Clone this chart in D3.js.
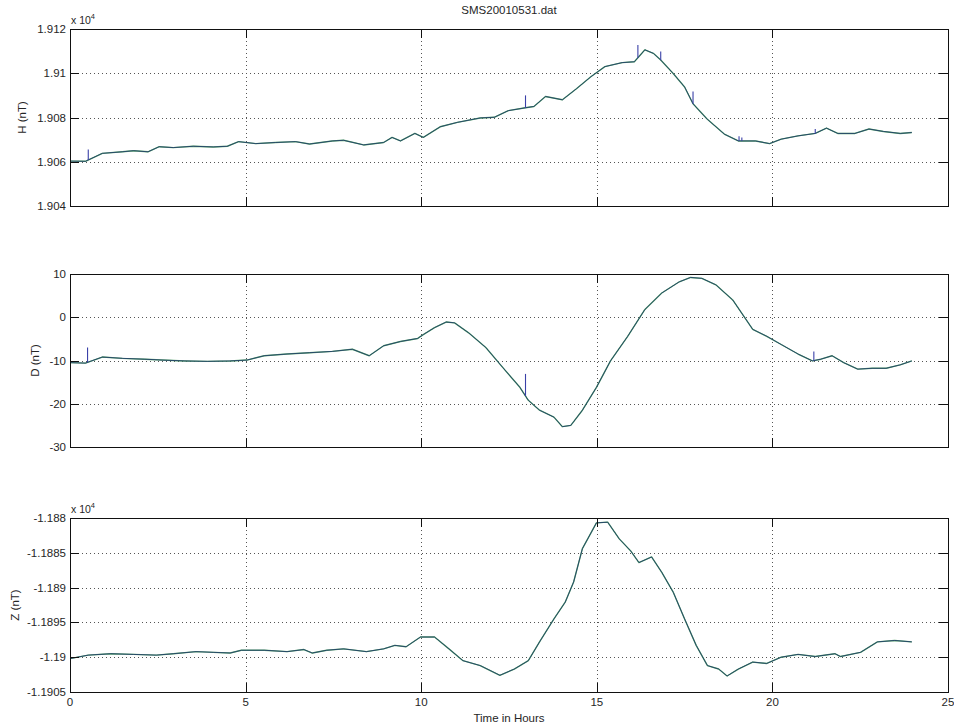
<!DOCTYPE html>
<html>
<head>
<meta charset="utf-8">
<script src="https://cdn.jsdelivr.net/npm/d3@7"></script>
<style>
  html, body { margin: 0; padding: 0; background: #ffffff; }
  svg { display: block; font-family: "Liberation Sans", Arial, Helvetica, sans-serif; }
</style>
</head>
<body>
<svg id="chart" width="954" height="727"></svg>
<script>
// ---------------- DATA ----------------
const title = "SMS20010531.dat";
const xLabel = "Time in Hours";
const xTicks = [0, 5, 10, 15, 20, 25];

// H component (nT)
const hHours = [0, 0.44, 0.92, 1.49, 1.81, 2.22, 2.54, 2.94, 3.51, 4.08, 4.48, 4.80, 5.29, 5.85, 6.42, 6.82, 7.47, 7.79, 8.36, 8.93, 9.17, 9.41, 9.82, 10.06, 10.54, 11.03, 11.68, 12.08, 12.48, 12.97, 13.21, 13.54, 14.02, 14.42, 14.83, 15.23, 15.72, 16.07, 16.37, 16.61, 16.82, 17.17, 17.50, 17.74, 18.14, 18.63, 19.03, 19.52, 19.92, 20.25, 20.73, 21.22, 21.54, 21.86, 22.35, 22.75, 23.16, 23.64, 23.97];
const hValues = [19060.3, 19060.2, 19063.8, 19064.5, 19065.0, 19064.5, 19066.8, 19066.4, 19067.0, 19066.7, 19067.0, 19069.1, 19068.2, 19068.7, 19069.1, 19068.0, 19069.4, 19069.7, 19067.6, 19068.7, 19071.0, 19069.4, 19072.8, 19071.0, 19075.8, 19077.8, 19079.8, 19080.1, 19083.1, 19084.4, 19085.0, 19089.5, 19088.0, 19093.0, 19098.4, 19103.0, 19104.8, 19105.2, 19110.6, 19109.0, 19106.0, 19100.0, 19093.8, 19086.2, 19079.3, 19072.5, 19069.4, 19069.4, 19068.2, 19070.2, 19071.7, 19072.8, 19075.2, 19072.8, 19072.8, 19074.8, 19073.7, 19072.8, 19073.2];
const hSpikeHours = [0.52, 12.97, 16.17, 16.82, 17.74, 19.05, 19.13, 21.22];
const hSpikeTops  = [19065.5, 19090.0, 19112.8, 19109.8, 19091.8, 19071.5, 19071.0, 19074.8];
const hTickValues = [19040, 19060, 19080, 19100, 19120];
const hTickLabels = ["1.904", "1.906", "1.908", "1.91", "1.912"];

// D component (nT)
const dHours = [0, 0.44, 0.92, 1.49, 2.13, 2.62, 3.27, 3.91, 4.56, 5.04, 5.53, 6.18, 6.82, 7.47, 8.04, 8.52, 8.93, 9.41, 9.90, 10.06, 10.38, 10.71, 10.95, 11.35, 11.84, 12.32, 12.81, 13.05, 13.37, 13.78, 14.02, 14.26, 14.59, 14.99, 15.39, 15.88, 16.37, 16.85, 17.35, 17.67, 17.99, 18.39, 18.87, 19.44, 19.84, 20.25, 20.73, 21.14, 21.38, 21.70, 22.03, 22.43, 22.84, 23.24, 23.64, 23.97];
const dValues = [-10.5, -10.6, -9.2, -9.5, -9.7, -9.9, -10.1, -10.2, -10.1, -9.9, -8.9, -8.5, -8.2, -7.9, -7.4, -8.9, -6.6, -5.6, -4.9, -4.0, -2.4, -1.1, -1.3, -3.6, -7.0, -11.6, -16.2, -19.2, -21.5, -23.1, -25.3, -25.0, -21.5, -16.2, -10.1, -4.4, 1.8, 5.6, 8.2, 9.2, 9.0, 7.5, 4.0, -2.8, -4.4, -6.3, -8.5, -10.1, -9.7, -8.9, -10.5, -12.0, -11.8, -11.8, -11.0, -10.1];
const dSpikeHours = [0.50, 12.97, 21.18];
const dSpikeTops  = [-7.0, -13.1, -7.9];
const dTickValues = [-30, -20, -10, 0, 10];
const dTickLabels = ["-30", "-20", "-10", "0", "10"];

// Z component (nT)
const zHours = [0, 0.52, 1.16, 1.81, 2.46, 2.94, 3.59, 4.08, 4.56, 4.88, 5.53, 6.18, 6.66, 6.90, 7.31, 7.79, 8.44, 8.93, 9.25, 9.57, 9.98, 10.38, 10.79, 11.19, 11.68, 12.24, 12.65, 13.05, 13.37, 13.78, 14.10, 14.34, 14.59, 14.99, 15.31, 15.64, 15.96, 16.20, 16.56, 16.85, 17.18, 17.50, 17.83, 18.15, 18.47, 18.71, 19.03, 19.44, 19.84, 20.25, 20.73, 21.22, 21.78, 21.94, 22.51, 22.99, 23.48, 23.97];
const zValues = [-11900.2, -11899.7, -11899.5, -11899.6, -11899.7, -11899.5, -11899.2, -11899.3, -11899.4, -11899.0, -11899.0, -11899.2, -11898.9, -11899.4, -11899.0, -11898.8, -11899.2, -11898.8, -11898.3, -11898.5, -11897.1, -11897.1, -11898.8, -11900.5, -11901.2, -11902.6, -11901.7, -11900.5, -11897.8, -11894.5, -11892.1, -11889.2, -11884.4, -11880.7, -11880.6, -11883.0, -11884.7, -11886.4, -11885.6, -11887.8, -11890.7, -11894.5, -11898.3, -11901.2, -11901.7, -11902.7, -11901.7, -11900.7, -11900.9, -11900.0, -11899.6, -11899.9, -11899.5, -11899.9, -11899.3, -11897.8, -11897.6, -11897.8];
const zTickValues = [-11905, -11900, -11895, -11890, -11885, -11880];
const zTickLabels = ["-1.1905", "-1.19", "-1.1895", "-1.189", "-1.1885", "-1.188"];

// ---------------- DRAW ----------------
const svg = d3.select("#chart");
const left = 70, right = 948;
const x = d3.scaleLinear().domain([0, 25]).range([left, right]);

const panels = [
  { top: 29, bottom: 206, domain: [19040, 19120], hours: hHours, values: hValues,
    spikeHours: hSpikeHours, spikeTops: hSpikeTops, ticks: hTickValues, labels: hTickLabels,
    ylabel: "H (nT)", ylabelX: 22, exponent: true, xlabels: false },
  { top: 274, bottom: 447, domain: [-30, 10], hours: dHours, values: dValues,
    spikeHours: dSpikeHours, spikeTops: dSpikeTops, ticks: dTickValues, labels: dTickLabels,
    ylabel: "D (nT)", ylabelX: 35, exponent: false, xlabels: false },
  { top: 518, bottom: 692, domain: [-11905, -11880], hours: zHours, values: zValues,
    spikeHours: [], spikeTops: [], ticks: zTickValues, labels: zTickLabels,
    ylabel: "Z (nT)", ylabelX: 15, exponent: true, xlabels: true }
];

const textColor = "#262626";
const tickLen = 9;

panels.forEach(p => {
  const y = d3.scaleLinear().domain(p.domain).range([p.bottom, p.top]);
  const g = svg.append("g");

  // grid
  const grid = g.append("g").attr("stroke", "#555").attr("stroke-width", 1)
    .attr("stroke-dasharray", "1,3").attr("shape-rendering", "crispEdges");
  xTicks.slice(1, -1).forEach(t => {
    grid.append("line").attr("x1", Math.round(x(t)) + 0.5).attr("x2", Math.round(x(t)) + 0.5)
      .attr("y1", p.top).attr("y2", p.bottom);
  });
  p.ticks.slice(1, -1).forEach(t => {
    grid.append("line").attr("x1", left).attr("x2", right)
      .attr("y1", Math.round(y(t)) + 0.5).attr("y2", Math.round(y(t)) + 0.5);
  });

  // data lines: green underneath, blue on top
  const pts = p.hours.map((h, i) => [h, p.values[i]]);
  const line = d3.line().x(d => x(d[0])).y(d => y(d[1]));
  g.append("path").datum(pts).attr("d", line)
    .attr("fill", "none").attr("stroke", "#5aa86c").attr("stroke-width", 1.4)
    .attr("stroke-linejoin", "round");
  g.append("path").datum(pts).attr("d", line)
    .attr("fill", "none").attr("stroke", "#1b3068").attr("stroke-width", 0.8)
    .attr("stroke-linejoin", "round");

  // spikes (blue raw data)
  const interp = d3.scaleLinear().domain(p.hours).range(p.values);
  p.spikeHours.forEach((h, i) => {
    g.append("line")
      .attr("x1", x(h)).attr("x2", x(h))
      .attr("y1", y(interp(h))).attr("y2", y(p.spikeTops[i]))
      .attr("stroke", "#3a40a8").attr("stroke-width", 1.1);
  });

  // box
  g.append("rect").attr("x", left + 0.5).attr("y", p.top + 0.5)
    .attr("width", right - left).attr("height", p.bottom - p.top)
    .attr("fill", "none").attr("stroke", "#111").attr("stroke-width", 1)
    .attr("shape-rendering", "crispEdges");

  // ticks (inward, all four sides)
  const tk = g.append("g").attr("stroke", "#111").attr("stroke-width", 1).attr("shape-rendering", "crispEdges");
  xTicks.forEach(t => {
    const xp = Math.round(x(t)) + 0.5;
    tk.append("line").attr("x1", xp).attr("x2", xp).attr("y1", p.bottom).attr("y2", p.bottom - tickLen);
    tk.append("line").attr("x1", xp).attr("x2", xp).attr("y1", p.top).attr("y2", p.top + tickLen);
  });
  p.ticks.forEach(t => {
    const yp = Math.round(y(t)) + 0.5;
    tk.append("line").attr("x1", left).attr("x2", left + tickLen).attr("y1", yp).attr("y2", yp);
    tk.append("line").attr("x1", right).attr("x2", right - tickLen).attr("y1", yp).attr("y2", yp);
  });

  // y tick labels
  p.ticks.forEach((t, i) => {
    g.append("text").attr("x", left - 4).attr("y", y(t)).attr("dy", "0.35em")
      .attr("text-anchor", "end").attr("font-size", 11.5).attr("fill", textColor)
      .text(p.labels[i]);
  });

  // exponent label
  if (p.exponent) {
    const ex = g.append("text").attr("x", left + 1).attr("y", p.top - 5)
      .attr("font-size", 10.5).attr("fill", textColor);
    ex.append("tspan").text("x 10");
    ex.append("tspan").attr("font-size", 7.5).attr("dy", -5).text("4");
  }

  // y label
  const cy = (p.top + p.bottom) / 2;
  g.append("text").attr("transform", `translate(${p.ylabelX},${cy}) rotate(-90)`)
    .attr("text-anchor", "middle").attr("dy", "0.35em").attr("font-size", 11.5).attr("fill", textColor)
    .text(p.ylabel);

  // x tick labels
  if (p.xlabels) {
    xTicks.forEach(t => {
      g.append("text").attr("x", x(t)).attr("y", p.bottom + 14)
        .attr("text-anchor", "middle").attr("font-size", 11.5).attr("fill", textColor)
        .text(t);
    });
  }
});

// title and x label
svg.append("text").attr("x", (left + right) / 2).attr("y", 14)
  .attr("text-anchor", "middle").attr("font-size", 11.5).attr("fill", textColor).text(title);
svg.append("text").attr("x", (left + right) / 2).attr("y", 722)
  .attr("text-anchor", "middle").attr("font-size", 11.5).attr("fill", textColor).text(xLabel);
</script>
</body>
</html>
